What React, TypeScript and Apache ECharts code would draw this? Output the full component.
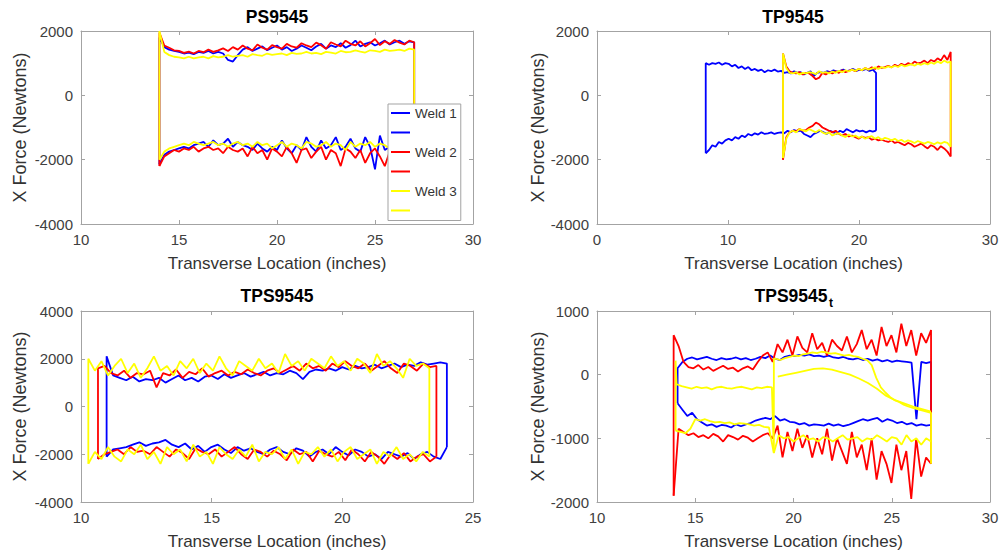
import React, { useEffect, useRef } from "react";
import * as echarts from "echarts";

const FONT = "'Liberation Sans', Arial, Helvetica, sans-serif";
const BLUE = "#0000ff";
const RED = "#ff0000";
const YELLOW = "#ffff00";

// ---------- titles / axes ----------
const titles = ["PS9545", "TP9545", "TPS9545", "TPS9545"];
const xLabel = "Transverse Location (inches)";
const yLabel = "X Force (Newtons)";
const legendNames = ["Weld 1", "Weld 1b", "Weld 2", "Weld 2b", "Weld 3", "Weld 3b"];
// [min, max, interval]
const xRanges = [
  [10, 30, 5],
  [0, 30, 10],
  [10, 25, 5],
  [10, 30, 5],
];
const yRanges = [
  [-4000, 2000, 2000],
  [-4000, 2000, 2000],
  [-4000, 4000, 2000],
  [-2000, 1000, 1000],
];

// ---------- PS9545 (x 14 -> 27) ----------
const psX = [14, 27];
const psBlueTop = [1800,1500,1420,1380,1350,1300,1330,1280,1350,1320, 1380,1300,1350,1300,1100,1050,1250,1420,1500,1380, 1450,1520,1400,1480,1550,1420,1500,1380,1450,1550, 1480,1400,1520,1600,1450,1550,1500,1620,1480,1560, 1700,1520,1600,1650,1550,1620,1700,1580,1650,1700, 1600,1680,1650];
const psBlueBottom = [-2150,-1850,-1750,-1700,-1650,-1600,-1650,-1550,-1500,-1450, -1600,-1400,-1550,-1500,-1350,-1600,-1450,-1550,-1600,-1700, -1500,-1650,-1750,-1600,-1700,-1400,-1650,-1800,-1550,-1700, -1300,-1600,-1750,-1400,-1650,-1550,-1300,-1700,-1600,-1350, -1650,-1750,-1300,-1600,-2300,-1250,-1700,-1600,-1350,-1800, -2200,-1900,-1700];
const psRedTop = [1950,1550,1480,1400,1380,1320,1360,1300,1380,1340, 1420,1350,1400,1460,1380,1500,1420,1550,1450,1400, 1580,1480,1420,1560,1500,1450,1600,1520,1480,1620, 1550,1500,1640,1560,1450,1650,1580,1520,1700,1600, 1550,1680,1520,1620,1750,1560,1680,1600,1720,1640, 1580,1700,1650];
const psRedBottom = [-2200,-1900,-1800,-1700,-1750,-1650,-1700,-1600,-1750,-1650, -1600,-1700,-1650,-1800,-1600,-1700,-1750,-1650,-1900,-1600, -1800,-1700,-2000,-1650,-1750,-1900,-1600,-1800,-2100,-1700, -1650,-1950,-1750,-1600,-2000,-1700,-1800,-2200,-1650,-1750, -1950,-1700,-2100,-1800,-1650,-1900,-2200,-1750,-1850,-1700, -1800,-1900,-1750];
const psYellowTop = [2000,1350,1250,1200,1180,1150,1200,1150,1180,1200, 1150,1220,1180,1200,1250,1200,1230,1250,1200,1280, 1250,1230,1300,1260,1280,1300,1250,1320,1290,1300, 1350,1300,1320,1280,1350,1330,1300,1380,1340,1350, 1400,1360,1330,1400,1380,1350,1420,1380,1400,1420, 1380,1450,1420];
const psYellowBottom = [-2000,-1750,-1650,-1600,-1550,-1500,-1550,-1450,-1500,-1550, -1500,-1450,-1550,-1500,-1600,-1500,-1450,-1550,-1500,-1600, -1450,-1550,-1500,-1650,-1550,-1450,-1600,-1500,-1550,-1650, -1450,-1500,-1600,-1550,-1450,-1600,-1500,-1550,-1700,-1450, -1600,-1500,-1550,-1450,-1600,-1500,-1550,-1650,-1500,-1550, -1600,-1500,-1550];

// ---------- TP9545 ----------
const tpBlueX = [8.3, 21.3];
const tpRedX = [14.2, 27];
const tpYellowX = [14.2, 27];
const tpBlueTop = [1000,950,1000,980,1020,950,1000,980,900,950, 850,900,820,880,780,820,760,800,720,780, 750,800,740,760,700,720,680,750,700,720, 650,700,750,600,700,720,700,750,720,780, 740,760,800,750,780,820,760,800,780,820, 760,800,700];
const tpBlueBottom = [-1800,-1700,-1550,-1600,-1450,-1500,-1400,-1350,-1400,-1300, -1350,-1250,-1300,-1200,-1250,-1180,-1220,-1150,-1200,-1180, -1150,-1200,-1170,-1150,-1180,-1100,-1150,-1080,-1120,-1100, -1200,-1250,-1300,-1200,-1150,-1100,-1150,-1200,-1100,-1150, -1200,-1100,-1150,-1050,-1100,-1150,-1080,-1120,-1100,-1150, -1100,-1130,-1100];
const tpRedTop = [1300,900,750,700,680,720,650,700,680,600, 500,550,700,650,720,680,750,700,780,720, 760,800,750,820,780,850,800,870,820,900, 850,880,920,870,950,900,980,930,1000,960, 1050,990,1020,1080,1000,1100,1050,1150,1080,1250, 1100,1350];
const tpRedBottom = [-2000,-1300,-1150,-1100,-1120,-1050,-1100,-1080,-1000,-950, -850,-900,-1000,-1050,-1100,-1150,-1100,-1200,-1250,-1200, -1280,-1250,-1300,-1350,-1280,-1320,-1300,-1380,-1350,-1400, -1380,-1420,-1450,-1400,-1480,-1450,-1500,-1550,-1480,-1520, -1600,-1550,-1500,-1580,-1650,-1550,-1600,-1700,-1580,-1650, -1750,-1900];
const tpYellowTop = [1300,850,700,680,720,650,700,680,720,700, 660,750,700,720,680,740,700,760,720,780, 740,800,760,820,780,850,800,830,870,820, 880,850,900,870,920,880,950,900,930,970, 920,980,950,1000,960,1020,980,1050,1000,1080, 1020,1050];
const tpYellowBottom = [-1950,-1350,-1150,-1100,-1150,-1050,-1080,-1120,-1050,-1100, -1150,-1080,-1150,-1200,-1150,-1250,-1200,-1180,-1250,-1300, -1220,-1280,-1250,-1320,-1280,-1350,-1300,-1270,-1350,-1300, -1380,-1320,-1350,-1400,-1350,-1420,-1380,-1450,-1400,-1430, -1480,-1420,-1460,-1500,-1450,-1480,-1520,-1460,-1500,-1450, -1480,-1600];

// ---------- TPS9545 ----------
const tpsYellowX = [10.28, 23.33];
const tpsRedX = [10.65, 23.6];
const tpsBlueX = [10.98, 24.0];
const tpsYellowTop = [2000,1500,1900,1300,1700,2000,1400,1800,1200,1600, 2100,1500,1700,1300,1900,1600,2000,1400,1800,1500, 2100,1600,1300,1900,1700,1500,2000,1600,1800,1400, 2200,1700,1900,1500,2000,1800,1600,2100,1700,1900, 1500,2000,1800,1400,2200,1700,1900,1600,1200,2000, 1700,1800,1600];
const tpsYellowBottom = [-2400,-1900,-2200,-1700,-2100,-2300,-1800,-2000,-1600,-2200, -1900,-2400,-1700,-2000,-1800,-2300,-1600,-2100,-1900,-2400, -1700,-2000,-2200,-1800,-2100,-1600,-2300,-1900,-2000,-1700, -2200,-1800,-2400,-1900,-2000,-1700,-2100,-1800,-2300,-1900, -1700,-2200,-2000,-1800,-2400,-1900,-2100,-1700,-2200,-2000, -2300,-1900,-2100];
const tpsRedTop = [1600,1700,1400,1300,1500,1200,1400,1350,1500,800, 1400,1300,1550,1200,1450,1350,1600,1250,1400,1500, 1300,1450,1350,1550,1400,1300,1500,1600,1400,1550, 1700,1500,1800,1600,1700,1500,1800,1650,1900,1700, 1600,1800,1500,1700,1900,1600,1400,1800,1700,1500, 1800,1650,1700];
const tpsRedBottom = [-2200,-2000,-1900,-1800,-2000,-1700,-1900,-1850,-2000,-1700, -1900,-2100,-1800,-1950,-2200,-1750,-1900,-2000,-1800,-2100, -1900,-1700,-2000,-2200,-1800,-1900,-2100,-1850,-2000,-2250, -1800,-2000,-1900,-2300,-1850,-2000,-2100,-1900,-2250,-1800, -2000,-2300,-1900,-2100,-2400,-2000,-2200,-1950,-2300,-2100, -2000,-2300,-2100];
const tpsBlueTop = [2100,1300,1200,1100,1250,1050,1150,1100,1200,1000, 1150,1300,1100,1200,1050,1250,1300,1150,1350,1200, 1300,1400,1250,1350,1450,1300,1400,1350,1500,1400, 1150,1450,1550,1500,1600,1500,1650,1550,1700,1600, 1650,1750,1600,1700,1800,1650,1750,1700,1850,1750, 1800,1850,1800];
const tpsBlueBottom = [-2100,-1800,-1750,-1700,-1600,-1500,-1650,-1550,-1500,-1400, -1600,-1700,-1550,-1800,-1650,-1900,-1700,-1600,-1800,-1950, -1700,-1850,-1750,-1900,-2000,-1800,-1700,-1900,-2000,-1750, -1850,-2100,-1900,-1800,-2000,-1700,-1900,-2050,-1800,-1900, -2100,-2000,-2200,-1900,-2000,-2100,-1950,-2200,-2000,-1900, -2100,-2200,-1700];

// ---------- TPS9545_t ----------
const tptRedX = [13.9, 27];
const tptBlueX = [14.1, 27];
const tptRedTop = [620,450,200,120,100,150,80,120,60,100, 140,90,110,50,100,130,80,200,300,350, 200,480,350,550,300,600,420,350,650,400, 500,300,550,450,380,600,350,480,700,400, 550,300,750,450,620,350,800,450,700,300, 650,500,700];
const tptRedBottom = [-1900,-850,-900,-950,-920,-980,-950,-1000,-930,-970, -1050,-950,-980,-1020,-960,-990,-1050,-1000,-950,-920, -1000,-800,-1300,-900,-1200,-850,-1150,-950,-1300,-1000, -1250,-850,-1350,-1000,-1200,-1400,-900,-1300,-1100,-1500, -1000,-1650,-1200,-1400,-1700,-1100,-1500,-1200,-1950,-1000, -1600,-1300,-1400];
const tptBlueTop = [100,200,250,270,240,260,280,250,230,260, 240,250,270,240,260,230,250,280,260,300, 250,230,280,300,290,310,300,320,290,300, 280,300,270,260,280,250,240,260,230,250, 220,240,210,230,200,220,210,200,190,-700, 200,180,200];
const tptBlueBottom = [-450,-550,-650,-600,-700,-750,-800,-780,-820,-790, -800,-830,-780,-810,-780,-760,-720,-700,-680,-700, -650,-720,-700,-740,-750,-780,-760,-800,-780,-790, -800,-770,-800,-780,-810,-790,-760,-730,-700,-720, -700,-680,-740,-700,-720,-760,-740,-780,-760,-800, -780,-800,-790];
const tptYellowStartJump = [-880, 220];          // at x = 14
const tptYellowFlat = [-150,-180,-200,-220,-190,-210,-200,-230,-200,-190, -210,-220,-200,-190,-210,-230,-200,-210,-190,-200]; // 14.05 -> 18.9
const tptYellowMidJump = [-1230, 250];           // at x = 19
const tptYellowUpper = [250,230,260,280,300,290,320,330,350,340, 360,350,330,340,320,300,310,290,280,250, 230,150,-50,-200,-280,-350,-400,-430,-470,-500, -520,-540,-560,-580,-600]; // 19.1 -> 27
const tptYellowEndJump = [-600, -1400];          // at x = 27
const tptYellowLower = [-30,0,30,60,90,100,80,40,0,-60,-130,-220,-330,-400,-450,-500,-540,-580]; // 19.2 -> 27
const tptYellowBottom = [-880,-900,-920,-850,-700,-720,-700,-730,-750,-740, -760,-750,-780,-760,-770,-780,-800,-790,-820,-830, -1230,-950,-1000,-980,-1050,-1000,-950,-1020,-1000,-1050, -980,-1000,-1050,-1000,-950,-1020,-1000,-980,-1050,-1000, -1020,-950,-1000,-1050,-980,-1000,-1100,-950,-1050,-1000, -1100,-1000,-1050]; // 14 -> 27

// ---------- helpers ----------
function seg(x0: number, x1: number, ys: number[]) {
  return ys.map((y, i) => [ys.length === 1 ? x0 : x0 + (i * (x1 - x0)) / (ys.length - 1), y]);
}
function loopTop(xr: number[], top: number[], bottom: number[]) {
  return [
    ...seg(xr[0], xr[0], [bottom[0], top[0]]),
    ...seg(xr[0], xr[1], top),
    ...seg(xr[1], xr[1], [top[top.length - 1], bottom[bottom.length - 1]]),
  ];
}
function line(name: string, data: number[][], color: string, idx: number) {
  return {
    type: "line",
    name,
    data,
    xAxisIndex: idx,
    yAxisIndex: idx,
    symbol: "none",
    showSymbol: false,
    silent: true,
    lineStyle: { color, width: 1.8 },
    itemStyle: { color },
    emphasis: { disabled: true },
  };
}

const grids = [
  { left: 81, top: 31, width: 392, height: 193 },
  { left: 597, top: 31, width: 393, height: 193 },
  { left: 81, top: 311, width: 392, height: 191 },
  { left: 597, top: 311, width: 393, height: 191 },
];

function buildOption() {
  const AX = "#a3a3a3";
  const LBL = "#404040";
  const plain = (v: number) => String(v);
  const xAxis: any[] = [];
  const yAxis: any[] = [];
  grids.forEach((_, i) => {
    const [xmin, xmax, xint] = xRanges[i];
    const [ymin, ymax, yint] = yRanges[i];
    xAxis.push({
      type: "value", gridIndex: i, min: xmin, max: xmax, interval: xint, position: "bottom",
      name: xLabel, nameLocation: "middle", nameGap: 31,
      nameTextStyle: { fontFamily: FONT, fontSize: 17, color: "#333" },
      axisLine: { show: true, onZero: false, lineStyle: { color: AX, width: 1 } },
      axisTick: { show: true, inside: true, length: 4, lineStyle: { color: AX } },
      axisLabel: { fontFamily: FONT, fontSize: 15, color: LBL, margin: 8, formatter: plain },
      splitLine: { show: false },
    });
    yAxis.push({
      type: "value", gridIndex: i, min: ymin, max: ymax, interval: yint, position: "left",
      name: yLabel, nameLocation: "middle", nameGap: i % 2 === 0 ? 52 : 50,
      nameTextStyle: { fontFamily: FONT, fontSize: 18, color: "#333" },
      axisLine: { show: true, onZero: false, lineStyle: { color: AX, width: 1 } },
      axisTick: { show: true, inside: true, length: 4, lineStyle: { color: AX } },
      axisLabel: { fontFamily: FONT, fontSize: 15, color: LBL, margin: 8, formatter: plain },
      splitLine: { show: false },
    });
  });
  grids.forEach((_, i) => {
    const [xmin, xmax, xint] = xRanges[i];
    const [ymin, ymax, yint] = yRanges[i];
    xAxis.push({
      type: "value", gridIndex: i, min: xmin, max: xmax, interval: xint, position: "top",
      axisLine: { show: true, onZero: false, lineStyle: { color: AX, width: 1 } },
      axisTick: { show: true, inside: true, length: 4, lineStyle: { color: AX } },
      axisLabel: { show: false }, splitLine: { show: false },
    });
    yAxis.push({
      type: "value", gridIndex: i, min: ymin, max: ymax, interval: yint, position: "right",
      axisLine: { show: true, onZero: false, lineStyle: { color: AX, width: 1 } },
      axisTick: { show: true, inside: true, length: 4, lineStyle: { color: AX } },
      axisLabel: { show: false }, splitLine: { show: false },
    });
  });

  const series: any[] = [
    // PS9545
    line("Weld 1", loopTop(psX, psBlueTop, psBlueBottom), BLUE, 0),
    line("Weld 1b", seg(psX[0], psX[1], psBlueBottom), BLUE, 0),
    line("Weld 2", loopTop(psX, psRedTop, psRedBottom), RED, 0),
    line("Weld 2b", seg(psX[0], psX[1], psRedBottom), RED, 0),
    line("Weld 3", loopTop(psX, psYellowTop, psYellowBottom), YELLOW, 0),
    line("Weld 3b", seg(psX[0], psX[1], psYellowBottom), YELLOW, 0),
    // TP9545
    line("TP Weld 1", loopTop(tpBlueX, tpBlueTop, tpBlueBottom), BLUE, 1),
    line("TP Weld 1b", seg(tpBlueX[0], tpBlueX[1], tpBlueBottom), BLUE, 1),
    line("TP Weld 2", loopTop(tpRedX, tpRedTop, tpRedBottom), RED, 1),
    line("TP Weld 2b", seg(tpRedX[0], tpRedX[1], tpRedBottom), RED, 1),
    line("TP Weld 3", loopTop(tpYellowX, tpYellowTop, tpYellowBottom), YELLOW, 1),
    line("TP Weld 3b", seg(tpYellowX[0], tpYellowX[1], tpYellowBottom), YELLOW, 1),
    // TPS9545
    line("TPS Weld 1", loopTop(tpsBlueX, tpsBlueTop, tpsBlueBottom), BLUE, 2),
    line("TPS Weld 1b", seg(tpsBlueX[0], tpsBlueX[1], tpsBlueBottom), BLUE, 2),
    line("TPS Weld 2", loopTop(tpsRedX, tpsRedTop, tpsRedBottom), RED, 2),
    line("TPS Weld 2b", seg(tpsRedX[0], tpsRedX[1], tpsRedBottom), RED, 2),
    line("TPS Weld 3", loopTop(tpsYellowX, tpsYellowTop, tpsYellowBottom), YELLOW, 2),
    line("TPS Weld 3b", seg(tpsYellowX[0], tpsYellowX[1], tpsYellowBottom), YELLOW, 2),
    // TPS9545_t
    line("TPSt Weld 1", loopTop(tptBlueX, tptBlueTop, tptBlueBottom), BLUE, 3),
    line("TPSt Weld 1b", seg(tptBlueX[0], tptBlueX[1], tptBlueBottom), BLUE, 3),
    line("TPSt Weld 2", loopTop(tptRedX, tptRedTop, tptRedBottom), RED, 3),
    line("TPSt Weld 2b", seg(tptRedX[0], tptRedX[1], tptRedBottom), RED, 3),
    line("TPSt Weld 3", [
      ...seg(14, 14, tptYellowStartJump),
      ...seg(14.05, 18.9, tptYellowFlat),
      ...seg(19, 19, tptYellowMidJump),
      ...seg(19.1, 27, tptYellowUpper),
      ...seg(27, 27, tptYellowEndJump),
    ], YELLOW, 3),
    line("TPSt Weld 3b", seg(14, 27, tptYellowBottom), YELLOW, 3),
    line("TPSt Weld 3c", seg(19.2, 27, tptYellowLower), YELLOW, 3),
  ];

  const titleCenters = [[277, 17], [793, 17], [277, 296], [791, 296]];
  const graphic: any[] = titles.map((t, i) => ({
    type: "text",
    x: titleCenters[i][0],
    y: titleCenters[i][1],
    style: { text: t, align: "center", verticalAlign: "middle", fontFamily: FONT, fontSize: 17.5, fontWeight: "bold", fill: "#000" },
  }));
  graphic.push({
    type: "text",
    x: 829,
    y: 303,
    style: { text: "t", align: "left", verticalAlign: "middle", fontFamily: FONT, fontSize: 12, fontWeight: "bold", fill: "#000" },
  });

  return {
    animation: false,
    backgroundColor: "#ffffff",
    grid: grids.map((g) => ({ ...g, containLabel: false })),
    xAxis,
    yAxis,
    series,
    graphic,
    legend: {
      data: legendNames,
      orient: "vertical",
      left: 388,
      top: 104,
      padding: [2, 4, 3, 3],
      itemGap: 5.5,
      itemWidth: 19,
      itemHeight: 2,
      icon: "rect",
      backgroundColor: "#ffffff",
      borderColor: "#a3a3a3",
      borderWidth: 1,
      selectedMode: false,
      formatter: (n: string) => (n.endsWith("b") ? " " : n),
      textStyle: { fontFamily: FONT, fontSize: 13.5, color: "#333", lineHeight: 14 },
    },
  };
}

export default function App() {
  const ref = useRef<HTMLDivElement>(null);
  useEffect(() => {
    document.body.style.margin = "0";
    if (!ref.current) return;
    const chart = echarts.init(ref.current, undefined, { renderer: "svg" });
    chart.setOption(buildOption() as any);
    return () => chart.dispose();
  }, []);
  return <div ref={ref} style={{ width: 1002, height: 556 }} />;
}
